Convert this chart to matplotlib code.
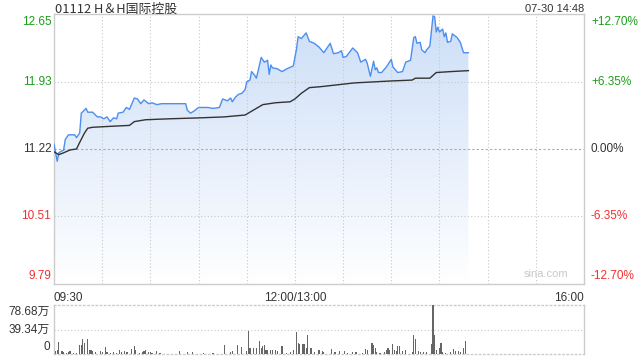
import matplotlib
matplotlib.use("Agg")
import matplotlib.pyplot as plt
import numpy as np
from matplotlib.patches import Polygon

plt.rcParams['font.family'] = ['Liberation Sans', 'Noto Sans CJK SC', 'DejaVu Sans']

# ---- data (minutes after 09:30, HK session 330 min) ----
title = "01112 H＆H国际控股"
stamp = "07-30 14:48"
prev_close = 11.22
y_ticks = [12.65, 11.93, 11.22, 10.51, 9.79]
pct_labels = ["+12.70%", "+6.35%", "0.00%", "-6.35%", "-12.70%"]
x_labels = ["09:30", "12:00/13:00", "16:00"]
vol_labels = ["78.68万", "39.34万", "0"]
vol_max = 78.68

price_t = [0, 2, 3, 6, 7, 9, 13, 14, 16, 17, 20, 21, 24, 27, 29, 31, 33, 35, 37, 39,
           40, 43, 45, 47, 49, 50, 52, 54, 56, 59, 61, 64, 67, 70, 77, 82, 83, 85, 87, 90,
           93, 96, 99, 103, 105, 108, 110, 111, 113, 115, 117, 119, 120, 122, 123, 125, 126, 127, 129, 131,
           133, 134, 135, 136, 139, 142, 145, 149, 151, 152, 154, 157, 159, 162, 165, 166, 168, 172, 174, 177,
           179, 180, 182, 186, 189, 191, 194, 195, 197, 199, 200, 201, 202, 204, 207, 210, 211, 214, 217, 219,
           222, 224, 225, 226, 228, 229, 231, 232, 234, 236, 237, 238, 239, 240, 242, 243, 244, 245, 247, 248,
           251, 253, 255, 258]
price_v = [11.27, 11.09, 11.18, 11.21, 11.32, 11.37, 11.37, 11.34, 11.39, 11.60, 11.65, 11.61, 11.61, 11.56, 11.56, 11.54, 11.56, 11.51, 11.55, 11.54,
           11.60, 11.61, 11.66, 11.64, 11.72, 11.76, 11.75, 11.70, 11.74, 11.70, 11.71, 11.69, 11.70, 11.70, 11.70, 11.70, 11.63, 11.60, 11.62, 11.66,
           11.66, 11.66, 11.65, 11.66, 11.75, 11.73, 11.76, 11.72, 11.77, 11.80, 11.81, 11.85, 11.93, 11.95, 12.04, 12.00, 11.97, 12.04, 12.19, 12.14,
           12.16, 12.01, 12.11, 12.08, 12.07, 12.04, 12.07, 12.10, 12.28, 12.41, 12.39, 12.45, 12.36, 12.34, 12.30, 12.28, 12.24, 12.34, 12.23, 12.24,
           12.26, 12.19, 12.20, 12.29, 12.24, 12.14, 12.17, 12.13, 11.99, 12.15, 12.06, 12.08, 12.03, 12.03, 12.09, 12.17, 12.09, 12.03, 12.04, 12.14,
           12.16, 12.40, 12.41, 12.34, 12.35, 12.27, 12.24, 12.27, 12.31, 12.63, 12.62, 12.46, 12.51, 12.46, 12.49, 12.41, 12.45, 12.35, 12.36, 12.44,
           12.40, 12.35, 12.24, 12.24]

avg_t = [0, 3, 6, 10, 14, 16, 19, 21, 24, 35, 47, 50, 57, 72, 91, 106, 119, 122, 130, 138,
         147, 150, 154, 159, 166, 187, 209, 223, 225, 234, 236, 238, 247, 258]
avg_v = [11.19, 11.16, 11.18, 11.21, 11.22, 11.29, 11.39, 11.44, 11.45, 11.46, 11.47, 11.51, 11.53, 11.54, 11.55, 11.56, 11.58, 11.61, 11.69, 11.71,
         11.72, 11.75, 11.81, 11.87, 11.88, 11.92, 11.94, 11.95, 11.97, 11.97, 12.00, 12.03, 12.04, 12.05]

vol_t = [1, 2, 3, 5, 6, 8, 9, 10, 12, 14, 16, 17, 18, 19, 21, 22, 23, 24, 26, 29,
         30, 32, 33, 35, 37, 39, 41, 42, 44, 45, 46, 48, 50, 51, 53, 55, 56, 57, 59, 60,
         61, 64, 66, 78, 83, 86, 93, 99, 106, 110, 111, 114, 117, 120, 121, 122, 124, 126, 128, 129,
         130, 131, 132, 133, 135, 136, 138, 139, 142, 145, 147, 149, 151, 152, 153, 155, 156, 157, 158, 160,
         162, 165, 167, 168, 173, 175, 178, 181, 183, 186, 188, 192, 194, 195, 198, 199, 200, 201, 203, 206,
         207, 208, 209, 211, 212, 213, 214, 215, 217, 219, 223, 224, 225, 227, 228, 230, 232, 235, 236, 237,
         238, 240, 241, 242, 244, 247, 249, 250, 252, 253, 255, 256]
vol_v = [4.3, 6.9, 19.2, 4.3, 2.7, 1.6, 2.7, 4.3, 1.6, 1.6, 13.9, 14.9, 24.0, 17.6, 24.5, 6.9, 6.9, 4.3, 2.7, 4.3,
         2.7, 11.2, 2.7, 1.6, 2.7, 1.6, 6.9, 2.7, 4.3, 2.7, 2.7, 8.0, 13.3, 6.9, 1.6, 2.7, 4.3, 6.9, 2.7, 2.7,
         1.6, 4.3, 1.6, 4.3, 2.7, 2.7, 1.6, 1.6, 14.9, 2.7, 4.3, 14.9, 11.2, 4.3, 37.3, 9.6, 9.6, 9.6, 21.3, 9.6,
         12.3, 13.9, 6.9, 5.9, 5.9, 6.9, 5.9, 4.3, 12.3, 1.6, 2.7, 6.9, 34.7, 17.6, 16.5, 16.5, 16.5, 9.6, 31.0, 9.6,
         2.7, 6.9, 4.3, 2.7, 8.0, 2.7, 4.3, 4.3, 1.6, 2.7, 2.7, 1.6, 8.0, 6.9, 17.6, 13.9, 9.6, 2.7, 1.6, 2.7,
         5.9, 9.6, 6.9, 16.5, 5.9, 4.3, 12.3, 12.3, 4.3, 5.9, 2.7, 31.0, 24.0, 4.3, 2.7, 2.7, 2.7, 16.5, 78.7, 31.0,
         5.9, 9.6, 17.6, 2.7, 1.6, 2.7, 8.0, 4.3, 4.3, 2.7, 9.6, 21.3]

# ---- styling ----
GREEN = "#1a9e1a"
RED = "#f03030"
DARK = "#333333"
GRID = "#c8c8c8"
BORDER = "#cccccc"
LINE = "#4d8ef0"

fig = plt.figure(figsize=(6.4, 3.6), dpi=100)
ax = fig.add_axes([54/640, 1-284/360, 530/640, 270/360])
axv = fig.add_axes([54/640, 1-354/360, 530/640, 49/360])

ymin, ymax = y_ticks[-1], y_ticks[0]
ax.set_xlim(0, 330)
ax.set_ylim(ymin, ymax)

# gradient fill under price
grad = np.linspace(0, 1, 256).reshape(-1, 1)
top_c = np.array([0.80, 0.87, 0.97])
bot_c = np.array([1.0, 1.0, 1.0])
img = top_c + (bot_c - top_c) * grad
img = img.reshape(256, 1, 3)
im = ax.imshow(img, extent=[0, 330, ymin, ymax], aspect='auto', origin='upper', zorder=1)
poly_pts = [(price_t[0], ymin)] + list(zip(price_t, price_v)) + [(price_t[-1], ymin)]
clip = Polygon(poly_pts, closed=True, facecolor='none', edgecolor='none', transform=ax.transData)
ax.add_patch(clip)
im.set_clip_path(clip)

# grid
for i in range(1, 11):
    ax.axvline(i * 30, color=GRID, lw=0.8, ls=(0, (1, 2)), zorder=2)
for yv in [y_ticks[1], y_ticks[3]]:
    ax.axhline(yv, color=GRID, lw=0.8, ls=(0, (1, 2)), zorder=2)
ax.axhline(prev_close, color="#aaaaaa", lw=0.8, ls=(0, (2, 2)), zorder=2)

ax.plot(price_t, price_v, color=LINE, lw=1.0, zorder=4)
ax.plot(avg_t, avg_v, color=DARK, lw=1.0, zorder=4)

ax.set_xticks([])
ax.set_yticks([])
for s in ax.spines.values():
    s.set_color(BORDER)
    s.set_linewidth(1.0)

# left/right labels
colors = [GREEN, GREEN, DARK, RED, RED]
offsets = [-6, 0, 0, 0, 6]
for yv, lab, pc, c, off in zip(y_ticks, y_ticks, pct_labels, colors, offsets):
    ax.annotate(f"{lab:.2f}", xy=(0, yv), xycoords=('axes fraction', 'data'),
                xytext=(-2, off), textcoords='offset points', ha='right', va='center',
                fontsize=8.5, color=c)
    ax.annotate(pc, xy=(1, yv), xycoords=('axes fraction', 'data'),
                xytext=(5, off), textcoords='offset points', ha='left', va='center',
                fontsize=8.5, color=c)

# x labels
ax.text(0, -0.03, x_labels[0], transform=ax.transAxes, ha='left', va='top', fontsize=8.5, color=DARK)
ax.text(150/330, -0.03, x_labels[1], transform=ax.transAxes, ha='center', va='top', fontsize=8.5, color=DARK)
ax.text(1, -0.03, x_labels[2], transform=ax.transAxes, ha='right', va='top', fontsize=8.5, color=DARK)

# title & stamp
fig.text(55/640, 1-9/360, title, ha='left', va='center', fontsize=9.3, color=DARK,
         family=['Noto Sans CJK SC', 'DejaVu Sans'])
fig.text(584/640, 1-9/360, stamp, ha='right', va='center', fontsize=8, color=DARK)

# watermark
ax.text(0.97, 0.02, "sina.com", transform=ax.transAxes, ha='right', va='bottom',
        fontsize=8, color="#c8c8c8", zorder=5)

# volume
axv.set_xlim(0, 330)
axv.set_ylim(0, vol_max)
axv.bar(vol_t, vol_v, width=0.7, color="#666666", zorder=3)
axv.axhline(vol_max / 2, color=GRID, lw=0.8, ls=(0, (1, 2)))
axv.set_xticks([])
axv.set_yticks([])
axv.spines['top'].set_linestyle((0, (1, 2)))
axv.spines['bottom'].set_linestyle((0, (1, 2)))
for s in axv.spines.values():
    s.set_color(BORDER)
    s.set_linewidth(1.0)
for yv, lab, off in zip([vol_max, vol_max / 2, 0], vol_labels, [-5, 0, 5]):
    axv.annotate(lab, xy=(0, yv), xycoords=('axes fraction', 'data'),
                 xytext=(-3, off), textcoords='offset points', ha='right', va='center',
                 fontsize=8.5, color=DARK, family=['Liberation Sans', 'Noto Sans CJK SC'])

fig.savefig("out.png", dpi=100)
